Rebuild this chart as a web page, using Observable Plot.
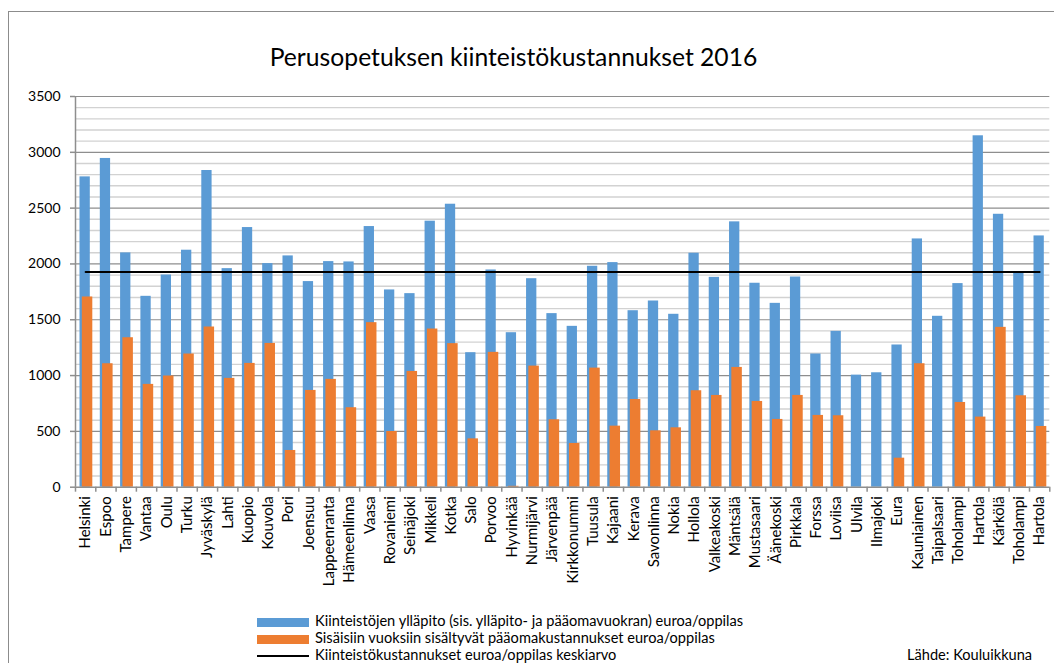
<!DOCTYPE html>
<html>
<head>
<meta charset="utf-8">
<script src="https://cdn.jsdelivr.net/npm/d3@7"></script>
<script src="https://cdn.jsdelivr.net/npm/@observablehq/plot@0.6"></script>
<style>
  html, body { margin: 0; padding: 0; background: #fff; }
  #wrap { position: relative; width: 1054px; height: 663px; overflow: hidden; font-family: Lato, "Open Sans", sans-serif; color: #000; }
  #frame { position: absolute; left: 8px; top: 11px; width: 1200px; height: 800px; border: 1.5px solid #8c8c8c; box-sizing: border-box; }
  #chart { position: absolute; left: 0; top: 0; }
  #title { position: absolute; left: 0; width: 1027px; text-align: center; top: 44px; font-size: 24.7px; line-height: 26px; white-space: nowrap; }
  .leg { position: absolute; left: 257px; font-size: 14.6px; line-height: 17px; height: 17px; white-space: nowrap; }
  .sw { display: inline-block; width: 52px; vertical-align: middle; margin-right: 6px; }
  #source { position: absolute; left: 907px; top: 646px; font-size: 14.6px; line-height: 17px; white-space: nowrap; }
</style>
</head>
<body>
<div id="wrap">
  <div id="frame"></div>
  <div id="chart"></div>
  <div id="title">Perusopetuksen kiinteistökustannukset 2016</div>
  <div class="leg" style="top:612px"><span class="sw" style="height:9px;background:#5B9BD5"></span>Kiinteistöjen ylläpito (sis. ylläpito- ja pääomavuokran) euroa/oppilas</div>
  <div class="leg" style="top:629px"><span class="sw" style="height:9px;background:#ED7D31"></span>Sisäisiin vuoksiin sisältyvät pääomakustannukset euroa/oppilas</div>
  <div class="leg" style="top:646px"><span class="sw" style="height:2px;background:#000"></span>Kiinteistökustannukset euroa/oppilas keskiarvo</div>
  <div id="source">Lähde: Kouluikkuna</div>
</div>
<script>
const municipalities = ["Helsinki","Espoo","Tampere","Vantaa","Oulu","Turku","Jyväskylä","Lahti","Kuopio","Kouvola","Pori","Joensuu","Lappeenranta","Hämeenlinna","Vaasa","Rovaniemi","Seinäjoki","Mikkeli","Kotka","Salo","Porvoo","Hyvinkää","Nurmijärvi","Järvenpää","Kirkkonummi","Tuusula","Kajaani","Kerava","Savonlinna","Nokia","Hollola","Valkeakoski","Mäntsälä","Mustasaari","Äänekoski","Pirkkala","Forssa","Loviisa","Ulvila","Ilmajoki","Eura","Kauniainen","Taipalsaari","Toholampi","Hartola","Kärkölä","Toholampi","Hartola"];
const upkeep = [2780,2945,2099,1710,1901,2123,2837,1958,2326,2003,2072,1842,2021,2018,2335,1767,1734,2383,2535,1205,1946,1384,1868,1555,1441,1979,2012,1581,1668,1549,2096,1880,2377,1827,1647,1883,1193,1396,1004,1025,1274,2224,1531,1824,3148,2445,1922,2251];
const capital = [1704,1106,1339,921,996,1193,1435,975,1109,1288,329,867,966,712,1474,499,1037,1417,1286,433,1208,8,1085,604,392,1067,547,786,505,532,864,822,1073,768,607,822,643,640,0,0,260,1106,0,759,628,1432,819,544];
const meanCost = 1928;
const yTicks = [0,500,1000,1500,2000,2500,3000,3500];
const minorTicks = d3.range(100, 3500, 100).filter(v => v % 500 !== 0);

const rows = municipalities.map((name, i) => ({i, name, upkeep: upkeep[i], capital: capital[i]}));

const H = 600;
const chart = Plot.plot({
  width: 1054,
  height: H,
  marginLeft: 75,
  marginRight: 4.7,
  marginTop: 96,
  marginBottom: H - 486.7,
  style: {background: "transparent", fontFamily: "Lato, 'Open Sans', sans-serif", color: "#000"},
  x: {type: "linear", domain: [0, municipalities.length], axis: null},
  y: {domain: [0, 3500], axis: null},
  marks: [
    Plot.ruleY(minorTicks, {stroke: "#d2d2d2", strokeWidth: 1.4}),
    Plot.ruleY(yTicks.filter(v => v > 0), {stroke: "#8e8e8e", strokeWidth: 1.2}),
    Plot.rectY(rows, {x1: d => d.i, x2: d => d.i + 1, y: "upkeep", fill: "#5B9BD5", insetLeft: 4.5, insetRight: 5.5}),
    Plot.rectY(rows.filter(d => d.capital > 0), {x1: d => d.i, x2: d => d.i + 1, y: "capital", fill: "#ED7D31", insetLeft: 6.8, insetRight: 3}),
    Plot.lineY([0.5, municipalities.length - 0.5], {x: d => d, y: () => meanCost, stroke: "#000", strokeWidth: 2}),
    Plot.ruleX([0], {y1: 0, y2: 3500, stroke: "#8e8e8e", strokeWidth: 1.5}),
    Plot.ruleY([0], {stroke: "#8e8e8e", strokeWidth: 1.5}),
    Plot.axisX({ticks: d3.range(municipalities.length + 1), tickSize: 5, tickFormat: () => "", stroke: "#8e8e8e", strokeWidth: 1.5, label: null}),
    Plot.axisY({ticks: yTicks, tickSize: 5, tickPadding: 10, fontSize: 14, stroke: "#8e8e8e", strokeWidth: 1.5, label: null, tickFormat: d => String(d)}),
    Plot.text(rows, {x: d => d.i + 0.5, y: 0, text: "name", rotate: -90, textAnchor: "end", dy: 9, fontSize: 15, fill: "#000"})
  ]
});
document.getElementById("chart").appendChild(chart);
</script>
</body>
</html>
